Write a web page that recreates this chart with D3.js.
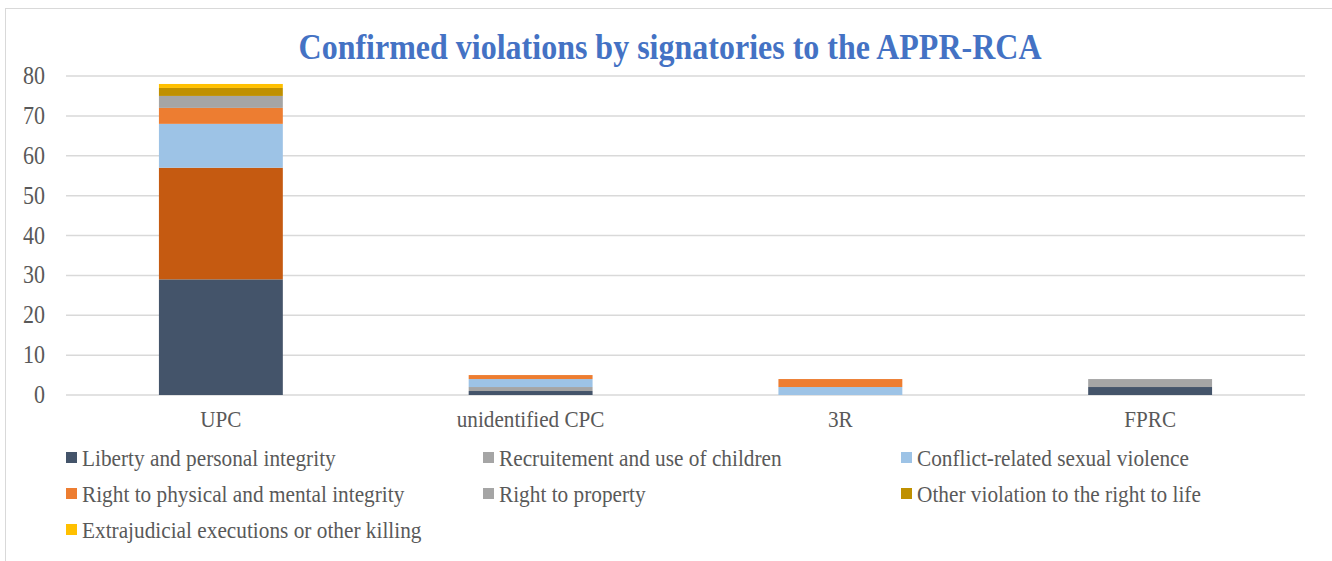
<!DOCTYPE html>
<html>
<head>
<meta charset="utf-8">
<script src="https://cdn.jsdelivr.net/npm/d3@7"></script>
<style>
  body { margin: 0; background: #fff; }
  svg { display: block; }
  text { font-family: "Liberation Serif", "Times New Roman", serif; fill: #595959; }
</style>
</head>
<body>
<svg id="chart" width="1332" height="561"></svg>
<script>
// categories (x axis)
const categories = ['UPC', 'unidentified CPC', '3R', 'FPRC'];

// series names, in stacking order (bottom to top)
const seriesNames = [
  'Liberty and personal integrity',
  'Recruitement and use of children',
  'Conflict-related sexual violence',
  'Right to physical and mental integrity',
  'Right to property',
  'Other violation to the right to life',
  'Extrajudicial executions or other killing'
];

// values per series, one per category
const liberty       = [29, 1, 0, 2];
const recruitment   = [28, 1, 0, 2];
const sexualViol    = [11, 2, 2, 0];
const physical      = [4, 1, 2, 0];
const property      = [3, 0, 0, 0];
const otherLife     = [2, 0, 0, 0];
const extrajudicial = [1, 0, 0, 0];

const seriesValues = [liberty, recruitment, sexualViol, physical, property, otherLife, extrajudicial];

const yTicks = [0, 10, 20, 30, 40, 50, 60, 70, 80];

const seriesColors = ['#44546A', '#A5A5A5', '#9DC3E6', '#ED7D31', '#A5A5A5', '#BF9000', '#FFC000'];
// the UPC recruitment point has its own fill in the original
const pointColors = { '1-0': '#C55A11' };

const W = 1332, H = 561;
const SY = 1.12; // text in the original is a bit stretched vertically
const svg = d3.select('#chart');

function place(px, py) {
  return `translate(${px},${py}) scale(1,${SY})`;
}

// outer frame
svg.append('rect')
  .attr('x', 5.5).attr('y', 8.5)
  .attr('width', W - 5).attr('height', H - 8)
  .attr('fill', 'none').attr('stroke', '#d9d9d9').attr('stroke-width', 1);

const x = d3.scaleBand()
  .domain(categories)
  .range([66, 1305])
  .paddingInner(0.6)
  .paddingOuter(0.3);

const y = d3.scaleLinear().domain([0, 80]).range([395, 76]);

// title
svg.append('text')
  .attr('transform', place(670, 59))
  .attr('text-anchor', 'middle')
  .style('font-size', '32px').style('font-weight', 'bold').style('fill', '#4472C4')
  .text('Confirmed violations by signatories to the APPR-RCA');

// gridlines
svg.append('g')
  .selectAll('line')
  .data(yTicks)
  .enter().append('line')
  .attr('x1', 66).attr('x2', 1305)
  .attr('y1', d => y(d)).attr('y2', d => y(d))
  .attr('stroke', '#d9d9d9').attr('stroke-width', 1.5);

// y tick labels
svg.append('g')
  .selectAll('text')
  .data(yTicks)
  .enter().append('text')
  .attr('transform', d => place(45, y(d) + 8))
  .attr('text-anchor', 'end')
  .style('font-size', '22px')
  .text(d => d);

// stacked bars
const rows = categories.map((c, i) => {
  const r = { cat: c };
  seriesNames.forEach((s, k) => { r[s] = seriesValues[k][i]; });
  return r;
});
const stacked = d3.stack().keys(seriesNames)(rows);

stacked.forEach((layer, k) => {
  svg.append('g')
    .selectAll('rect')
    .data(layer)
    .enter().append('rect')
    .attr('x', d => x(d.data.cat))
    .attr('width', x.bandwidth())
    .attr('y', d => y(d[1]))
    .attr('height', d => y(d[0]) - y(d[1]))
    .attr('fill', (d, i) => pointColors[k + '-' + i] || seriesColors[k]);
});

// x labels
svg.append('g')
  .selectAll('text')
  .data(categories)
  .enter().append('text')
  .attr('transform', d => place(x(d) + x.bandwidth() / 2, 427))
  .attr('text-anchor', 'middle')
  .style('font-size', '21.2px')
  .text(d => d);

// legend
const legendCols = [66, 483, 901];
const legendRows = [458, 494, 530];
const legend = svg.append('g')
  .selectAll('g')
  .data(seriesNames)
  .enter().append('g')
  .attr('transform', (d, i) => `translate(${legendCols[i % 3]},${legendRows[Math.floor(i / 3)]})`);

legend.append('rect')
  .attr('x', 0).attr('y', -6)
  .attr('width', 11).attr('height', 11)
  .attr('fill', (d, i) => seriesColors[i]);

legend.append('text')
  .attr('transform', place(16, 8))
  .style('font-size', '21.3px')
  .text(d => d);
</script>
</body>
</html>
